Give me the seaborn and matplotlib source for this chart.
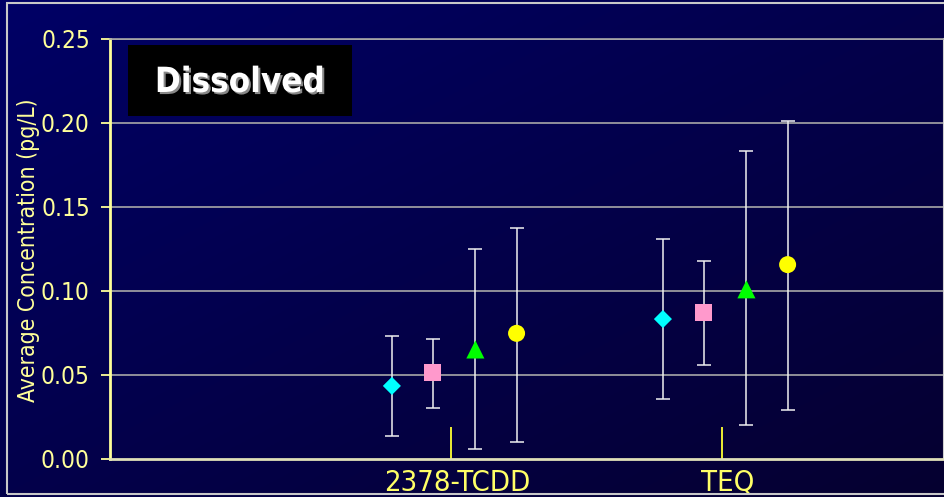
import numpy as np
import pandas as pd
import matplotlib
matplotlib.use("Agg")
import matplotlib.pyplot as plt
import matplotlib.patheffects as pe
from matplotlib.patches import Rectangle
from matplotlib.transforms import ScaledTranslation
import seaborn as sns

# --- data ---
categories = ["2378-TCDD", "TEQ"]
series = ["Series 1", "Series 2", "Series 3", "Series 4"]

mean_s1 = [0.0435, 0.0833]
low_s1 = [0.0135, 0.0359]
high_s1 = [0.0734, 0.1310]

mean_s2 = [0.0514, 0.0871]
low_s2 = [0.0302, 0.0560]
high_s2 = [0.0716, 0.1177]

mean_s3 = [0.0652, 0.1010]
low_s3 = [0.0060, 0.0202]
high_s3 = [0.1250, 0.1833]

mean_s4 = [0.0748, 0.1157]
low_s4 = [0.0101, 0.0290]
high_s4 = [0.1375, 0.2010]

y_ticks = [0.00, 0.05, 0.10, 0.15, 0.20, 0.25]

# styling
colors = {"Series 1": "#00FFFF", "Series 2": "#FF99CC", "Series 3": "#00FF00", "Series 4": "#FFFF00"}
markers = {"Series 1": "D", "Series 2": "s", "Series 3": "^", "Series 4": "o"}
sizes = {"Series 1": 85, "Series 2": 150, "Series 3": 170, "Series 4": 150}
offsets = [-0.218, -0.068, 0.09, 0.242]

rows = []
for name, m, lo, hi, off in zip(series,
                                [mean_s1, mean_s2, mean_s3, mean_s4],
                                [low_s1, low_s2, low_s3, low_s4],
                                [high_s1, high_s2, high_s3, high_s4],
                                offsets):
    for i, cat in enumerate(categories):
        rows.append({"series": name, "category": cat, "x": i + 1 + off,
                     "mean": m[i], "low": lo[i], "high": hi[i]})
df = pd.DataFrame(rows)

sns.set_theme(style="white")
plt.rcParams["font.family"] = ["DejaVu Sans"]
plt.rcParams["font.stretch"] = "condensed"

W, H = 945, 497
fig = plt.figure(figsize=(W / 100, H / 100), dpi=100)

# gradient background
bg = fig.add_axes([0, 0, 1, 1])
yy, xx = np.mgrid[0:1:200j, 0:1:400j]
t = (xx + yy) / 2
top = np.array([0, 0, 102]) / 255
bot = np.array([6, 0, 48]) / 255
img = top[None, None, :] * (1 - t[..., None]) + bot[None, None, :] * t[..., None]
bg.imshow(img, aspect="auto", extent=[0, 1, 0, 1], origin="upper")
bg.set_axis_off()
fig.patches.append(Rectangle((7 / W, 1 - 494 / H), 1.2, (494 - 3) / H, transform=fig.transFigure,
                             fill=False, edgecolor="#C8C8C8", linewidth=1.5))

def px(x0, y0, x1, y1):
    return [x0 / W, 1 - y1 / H, (x1 - x0) / W, (y1 - y0) / H]

ax = fig.add_axes(px(110, 39, 944, 459))
ax.patch.set_alpha(0)

for y in y_ticks[1:]:
    ax.axhline(y, color="#A8A8A8", lw=1.2, zorder=1)

for name in series:
    d = df[df["series"] == name]
    ax.errorbar(d["x"], d["mean"], yerr=[d["mean"] - d["low"], d["high"] - d["mean"]],
                fmt="none", ecolor="#F0F0F0", elinewidth=1.1, capsize=5, capthick=1.1, zorder=2)

for name in series:
    d = df[df["series"] == name]
    sns.scatterplot(data=d, x="x", y="mean", color=colors[name], marker=markers[name],
                    s=sizes[name], edgecolor="none", linewidth=0, ax=ax, zorder=3, legend=False)

ax.set_xlim(-0.258, 2.819)
ax.set_ylim(0, 0.25)
ax.set_xticks([1, 2])
ax.set_xticklabels(categories)
ax.set_yticks(y_ticks)
ax.set_yticklabels([f"{v:.2f}" for v in y_ticks])
ax.set_xlabel("")
ax.set_ylabel("")

ax.tick_params(axis="x", direction="in", length=23, width=1.3, color="#FFFF33",
               labelcolor="#FFFF66", labelsize=21, pad=7, bottom=True)
ax.tick_params(axis="y", direction="out", length=6.5, width=1.3, color="#FFFF99",
               labelcolor="#FFFF99", labelsize=17.5, pad=8, left=True)
for lab in ax.get_xticklabels():
    lab.set_transform(lab.get_transform() + ScaledTranslation(6 / 100, 0, fig.dpi_scale_trans))

ax.spines["left"].set_color("#FFFF99")
ax.spines["left"].set_linewidth(2)
ax.spines["bottom"].set_color("#E0E0B8")
ax.spines["bottom"].set_linewidth(2)
ax.spines["top"].set_color("#A8A8A8")
ax.spines["top"].set_linewidth(1.2)
ax.spines["right"].set_color("#D0D0D0")
ax.spines["right"].set_linewidth(1.5)

fig.text(29 / W, 1 - 250 / H, "Average Concentration (pg/L)", rotation=90, ha="center", va="center",
         color="#FFFF99", fontsize=16.5)

fig.patches.append(Rectangle((128 / W, 1 - 116 / H), (352 - 128) / W, (116 - 45) / H,
                             transform=fig.transFigure, facecolor="black", edgecolor="none"))
fig.text(240 / W, 1 - 82 / H, "Dissolved", ha="center", va="center", color="white",
         fontsize=25, fontweight="bold",
         path_effects=[pe.withSimplePatchShadow(offset=(1.5, -1.5), shadow_rgbFace="#888888", alpha=1)])

fig.savefig("out.png", dpi=100)
